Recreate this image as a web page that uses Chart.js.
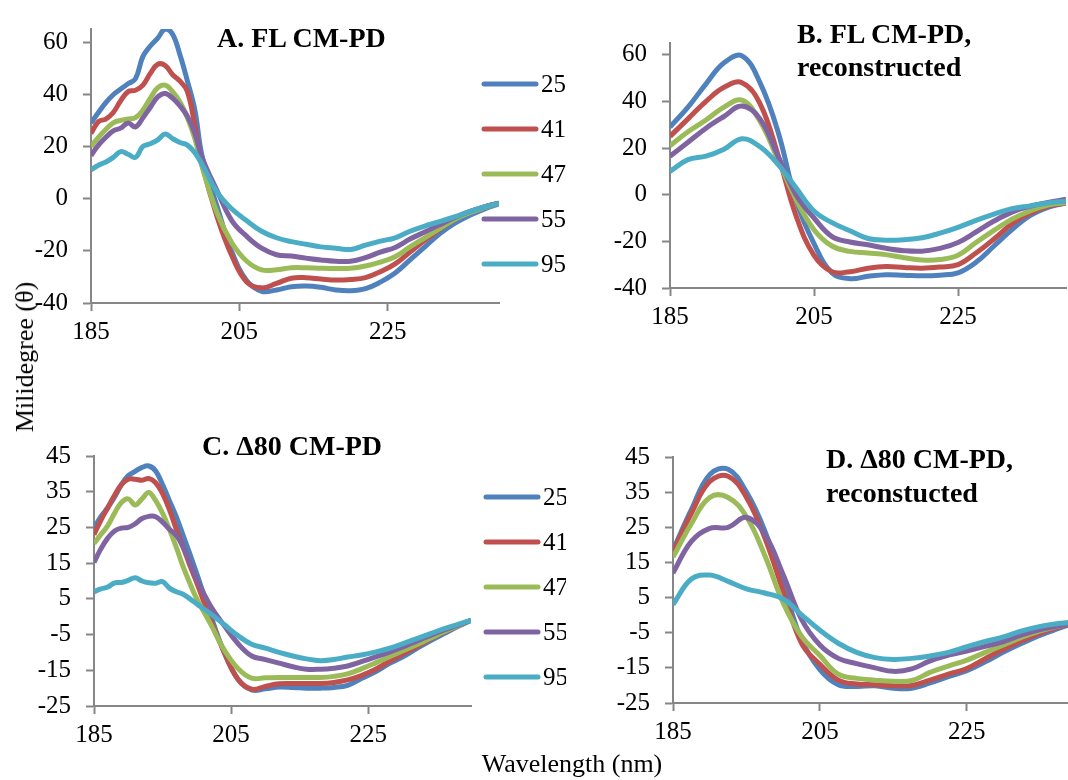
<!DOCTYPE html>
<html>
<head>
<meta charset="utf-8">
<title>CD spectra CM-PD</title>
<script src="https://cdn.jsdelivr.net/npm/chart.js@4.4.0/dist/chart.umd.min.js"></script>
<style>
  html, body { margin: 0; padding: 0; background: #fff; }
  body {
    position: relative; width: 1068px; height: 780px; overflow: hidden;
    font-family: "Liberation Serif", "Times New Roman", serif; color: #000;
  }
  canvas { position: absolute; }
  .title { position: absolute; font-weight: bold; font-size: 28px; white-space: nowrap; }
  .axis-title { position: absolute; font-size: 26px; line-height: 26px; white-space: nowrap; }
</style>
</head>
<body>
<canvas id="chartA"></canvas>
<canvas id="chartB"></canvas>
<canvas id="chartC"></canvas>
<canvas id="chartD"></canvas>

<div class="title" style="left:217px; top:23.5px; line-height:28px;">A. FL CM-PD</div>
<div class="title" style="left:797px; top:17px; line-height:33px;">B. FL CM-PD,<br>reconstructed</div>
<div class="title" style="left:202px; top:431.5px; line-height:28px;">C. &Delta;80 CM-PD</div>
<div class="title" style="left:826px; top:441.7px; line-height:34.4px;">D. &Delta;80 CM-PD,<br>reconstucted</div>

<div class="axis-title" style="left:572px; top:751px; transform:translateX(-50%);">Wavelength (nm)</div>
<div class="axis-title" style="left:25px; top:357px; transform:translate(-50%,-50%) rotate(-90deg);">Milidegree (&theta;)</div>

<script>
// wavelengths (nm): measured spectra are finer below 200 nm
const wlRaw = [185, 186, 187, 188, 189, 190, 191, 192, 193, 194, 195, 196, 197, 198, 199, 200,
  202, 204, 206, 208, 210, 212, 214, 216, 218, 220, 222, 224, 226, 228, 230, 232, 234, 236, 238, 240];
const wlFit = [185, 187.5, 190, 192.5, 195, 197.5, 200, 202.5, 205, 207.5, 210, 212.5, 215, 217.5,
  220, 222.5, 225, 227.5, 230, 232.5, 235, 237.5, 240];

// temperatures (legend)
const temps = ['25', '41', '47', '55', '95'];

// A. FL CM-PD (measured)
const flRaw25 = [29, 33, 36.8, 39.8, 42, 44, 46, 54.5, 58.5, 61.5, 65, 63, 55, 45, 34, 16,
  -3, -20.5, -31.5, -35.5, -35, -33.8, -33.5, -34, -35, -35.3, -34.5, -32, -28.5, -23.5, -18.5, -13.5, -9.5, -6.5, -4, -2];
const flRaw41 = [25, 29.5, 30.5, 33, 37.5, 41, 41.5, 43.5, 48, 51.5, 51, 47.5, 45, 41, 28, 13,
  -7, -22, -32, -34.2, -32.5, -30.5, -30.3, -30.8, -31.2, -31, -30.3, -28, -25, -20.5, -16, -11.8, -8, -5.2, -3.2, -1.7];
const flRaw47 = [20, 23.5, 26.5, 29, 30, 30.5, 31, 34, 38.5, 42.5, 43.5, 41, 37, 31, 23, 12,
  -5.5, -17, -24, -27.3, -27.3, -26.5, -26.5, -26.7, -26.8, -26.7, -25.8, -24.3, -22.3, -18.5, -15, -11.5, -8, -5.5, -3.5, -1.7];
const flRaw55 = [16.5, 20.5, 23.5, 26, 27, 29, 27.5, 31, 35, 39, 40.3, 38.5, 35.5, 31.5, 25, 15.5,
  3, -8.5, -14.5, -19, -21.5, -22, -22.8, -23.5, -24, -24, -22.6, -20.5, -18.7, -15.5, -12.8, -10, -7.3, -5, -3.2, -1.7];
const flRaw95 = [11, 12.8, 14, 15.8, 18, 17, 15.8, 20, 21, 22.5, 24.8, 23, 21.5, 20.5, 17.6, 13,
  2.5, -4, -8.5, -12.5, -15, -16.5, -17.5, -18.5, -19, -19.5, -17.8, -16.3, -15, -12.5, -10.5, -8.8, -7, -5, -3.2, -1.8];

// B. FL CM-PD, reconstructed
const flFit25 = [29, 37.5, 47.5, 56.5, 59.5, 48, 27, -2.5, -21, -33.5, -36, -35, -34.3, -34.5, -34.8, -34.5, -33.5, -29, -22, -15, -9, -5.5, -3.5];
const flFit41 = [25, 32.5, 40, 46, 48, 39, 17, -9, -26, -33, -33, -31.5, -30.8, -31.2, -31.5, -31, -30, -25, -19, -12.5, -8, -5, -3.5];
const flFit47 = [21, 27, 32, 37.5, 40.5, 31.5, 15, -2, -15, -22, -24.3, -25, -25.7, -27, -28, -27.8, -26, -20.5, -15.3, -10.5, -7, -4.5, -3.3];
const flFit55 = [16.5, 22.5, 28.5, 33.5, 38, 32.5, 16.5, 0, -10, -18, -20.3, -21.5, -23, -24, -24.2, -23, -20.5, -16, -11.3, -7.5, -5, -3.3, -2];
const flFit95 = [10, 15, 16.5, 19.5, 24, 20.5, 13, 3, -7, -12, -15.5, -18.8, -19.5, -19.3, -18.5, -16.5, -14, -11, -8.3, -6, -4.8, -3.6, -2.8];

// C. delta80 CM-PD (measured)
const d80Raw25 = [24.8, 28, 30.5, 33.5, 37, 39.5, 40.7, 41.8, 42.2, 40.8, 37, 32.5, 28, 22.8, 17.5, 12,
  0.5, -10, -17.5, -20.5, -20.2, -19.7, -19.8, -20, -20, -19.8, -19.2, -17.3, -15.5, -13.2, -11.3, -9, -6.8, -4.8, -2.8, -1];
const d80Raw41 = [23, 27, 30.5, 34, 37, 38.5, 38.5, 38.2, 38.7, 37.5, 34.5, 30, 24.5, 19.5, 14.3, 9.5,
  -0.8, -10, -17.5, -20.3, -19.5, -18.8, -18.7, -18.7, -18.7, -18.4, -17.7, -16.5, -14.8, -12.6, -10.5, -8.5, -6.3, -4.4, -2.6, -1];
const d80Raw47 = [20.5, 23, 25.5, 29, 32, 33, 31.3, 33, 34.8, 32.5, 29, 24.5, 19.5, 14, 9.3, 5,
  -2, -9.3, -14.5, -17.2, -17.1, -17, -17, -17, -17, -16.7, -16, -14.6, -13, -11.3, -9.6, -7.9, -6.1, -4.3, -2.6, -1];
const d80Raw55 = [15.2, 19, 22, 24, 24.8, 25, 26, 27.5, 28.1, 28, 26.5, 24.5, 22.8, 19.5, 15.2, 10.5,
  3, -2.5, -7.5, -11, -12, -13, -14, -14.7, -14.7, -14.4, -13.8, -12.6, -11.3, -10, -8.5, -6.9, -5.3, -3.8, -2.4, -1];
const d80Raw95 = [7, 7.8, 8.3, 9.5, 9.6, 10.2, 10.9, 10, 9.5, 9.4, 9.8, 8, 7, 6.3, 5, 3.6,
  0.8, -2.2, -5.3, -7.7, -8.8, -10, -11, -11.8, -12.3, -12, -11.3, -10.7, -9.9, -8.9, -7.6, -6.2, -4.8, -3.4, -2.2, -1];

// D. delta80 CM-PD, reconstructed
const d80Fit25 = [18.5, 30, 40, 41.5, 35, 24, 8.7, -7, -15.5, -19.8, -20.3, -20.1, -20.8, -20.8, -19.3, -17.5, -15.8, -13.3, -10.5, -8, -5.7, -3.8, -2];
const d80Fit41 = [18, 29, 38, 39.5, 33.5, 22, 6.8, -8, -14, -18.5, -19.6, -19.8, -20.1, -20, -18.5, -16.8, -15.2, -12.4, -9.7, -7.3, -5.1, -3.4, -2];
const d80Fit47 = [16.5, 26, 33.5, 33.5, 28, 17, 3.5, -6, -11.5, -16.8, -18, -18.5, -18.8, -18.6, -16.3, -14.5, -12.8, -10.6, -8.5, -6.3, -4.5, -3.1, -2];
const d80Fit55 = [12, 21, 24.7, 25, 27.8, 23, 11.5, -1.2, -8.5, -12.3, -13.8, -15, -16, -15.3, -13, -11.4, -10.2, -8.9, -7.5, -5.6, -4.1, -3, -2];
const d80Fit95 = [3, 10.3, 11.4, 9.6, 7.5, 6.3, 4.6, 0.1, -4.3, -8, -10.6, -12.1, -12.6, -12.3, -11.6, -10.6, -9, -7.5, -6.2, -4.5, -3.2, -2.4, -1.8];

// axis ticks
const xTicks = [185, 205, 225];
const yTicksFL = [-40, -20, 0, 20, 40, 60];
const yTicksD80 = [-25, -15, -5, 5, 15, 25, 35, 45];

const seriesColors = ['#4F81BD', '#C0504D', '#9BBB59', '#8064A2', '#4BACC6'];
const AXIS_GRAY = '#868686';

Chart.defaults.font.family = '"Liberation Serif", "Times New Roman", serif';
Chart.defaults.font.size = 25;
Chart.defaults.color = '#000';

// legend drawn as short line + label beside the plot
const sideLegend = {
  id: 'sideLegend',
  afterDraw(chart, args, opts) {
    if (!opts || opts.x == null) return;
    const ctx = chart.ctx;
    chart.data.datasets.forEach((ds, i) => {
      const y = opts.y + i * opts.gap;
      ctx.save();
      ctx.strokeStyle = ds.borderColor;
      ctx.lineWidth = 5;
      ctx.lineCap = 'round';
      ctx.beginPath();
      ctx.moveTo(opts.x, y);
      ctx.lineTo(opts.x + opts.len, y);
      ctx.stroke();
      ctx.fillStyle = '#000';
      ctx.font = '25px "Liberation Serif", "Times New Roman", serif';
      ctx.textBaseline = 'middle';
      ctx.fillText(ds.label, opts.x + opts.len + 5, y + 1);
      ctx.restore();
    });
  }
};

function buildPanel(id, area, xs, series, yMin, yMax, yTicks, legend) {
  const yW = 75, xH = 55, padTop = 12;
  const padRight = legend ? 95 : 4;
  const canvas = document.getElementById(id);
  canvas.width = yW + (area.right - area.left) + padRight;
  canvas.height = padTop + (area.bottom - area.top) + xH;
  canvas.style.left = (area.left - yW) + 'px';
  canvas.style.top = (area.top - padTop) + 'px';

  const datasets = series.map((ys, i) => ({
    label: temps[i],
    data: xs.map((x, j) => ({ x: x, y: ys[j] })),
    borderColor: seriesColors[i],
    backgroundColor: seriesColors[i],
    borderWidth: 5,
    pointRadius: 0,
    tension: 0.4,
    fill: false,
    order: series.length - 1 - i
  }));

  const legendOpts = legend
    ? { x: legend.x - (area.left - yW), y: legend.y - (area.top - padTop), gap: 45, len: 52 }
    : {};

  return new Chart(canvas, {
    type: 'line',
    data: { datasets: datasets },
    plugins: [sideLegend],
    options: {
      responsive: false,
      animation: false,
      layout: { padding: { top: padTop, right: padRight, left: 0, bottom: 0 } },
      plugins: {
        legend: { display: false },
        tooltip: { enabled: false },
        sideLegend: legendOpts
      },
      scales: {
        x: {
          type: 'linear',
          min: 185,
          max: 240,
          afterBuildTicks: s => { s.ticks = xTicks.map(v => ({ value: v })); },
          afterFit: s => { s.height = xH; },
          grid: { drawOnChartArea: false, color: AXIS_GRAY, tickLength: 8, tickWidth: 2, tickColor: AXIS_GRAY },
          border: { color: AXIS_GRAY, width: 2 },
          ticks: { color: '#000', font: { size: 25 }, padding: 6, maxRotation: 0, autoSkip: false }
        },
        y: {
          type: 'linear',
          min: yMin,
          max: yMax,
          afterBuildTicks: s => { s.ticks = yTicks.map(v => ({ value: v })); },
          afterFit: s => { s.width = yW; },
          grid: { drawOnChartArea: false, color: AXIS_GRAY, tickLength: 8, tickWidth: 2, tickColor: AXIS_GRAY },
          border: { color: AXIS_GRAY, width: 2 },
          ticks: { color: '#000', font: { size: 25 }, padding: 15, autoSkip: false }
        }
      }
    }
  });
}

buildPanel('chartA', { left: 91, right: 499, top: 11, bottom: 303 }, wlRaw,
  [flRaw25, flRaw41, flRaw47, flRaw55, flRaw95], -40, 65, yTicksFL, { x: 484, y: 84 });
buildPanel('chartB', { left: 670, right: 1066, top: 25, bottom: 288 }, wlFit,
  [flFit25, flFit41, flFit47, flFit55, flFit95], -40, 65, yTicksFL, null);
buildPanel('chartC', { left: 94, right: 471, top: 438, bottom: 706 }, wlRaw,
  [d80Raw25, d80Raw41, d80Raw47, d80Raw55, d80Raw95], -25, 45, yTicksD80, { x: 486, y: 497 });
buildPanel('chartD', { left: 673, right: 1077, top: 439, bottom: 703 }, wlFit,
  [d80Fit25, d80Fit41, d80Fit47, d80Fit55, d80Fit95], -25, 45, yTicksD80, null);
</script>
</body>
</html>
